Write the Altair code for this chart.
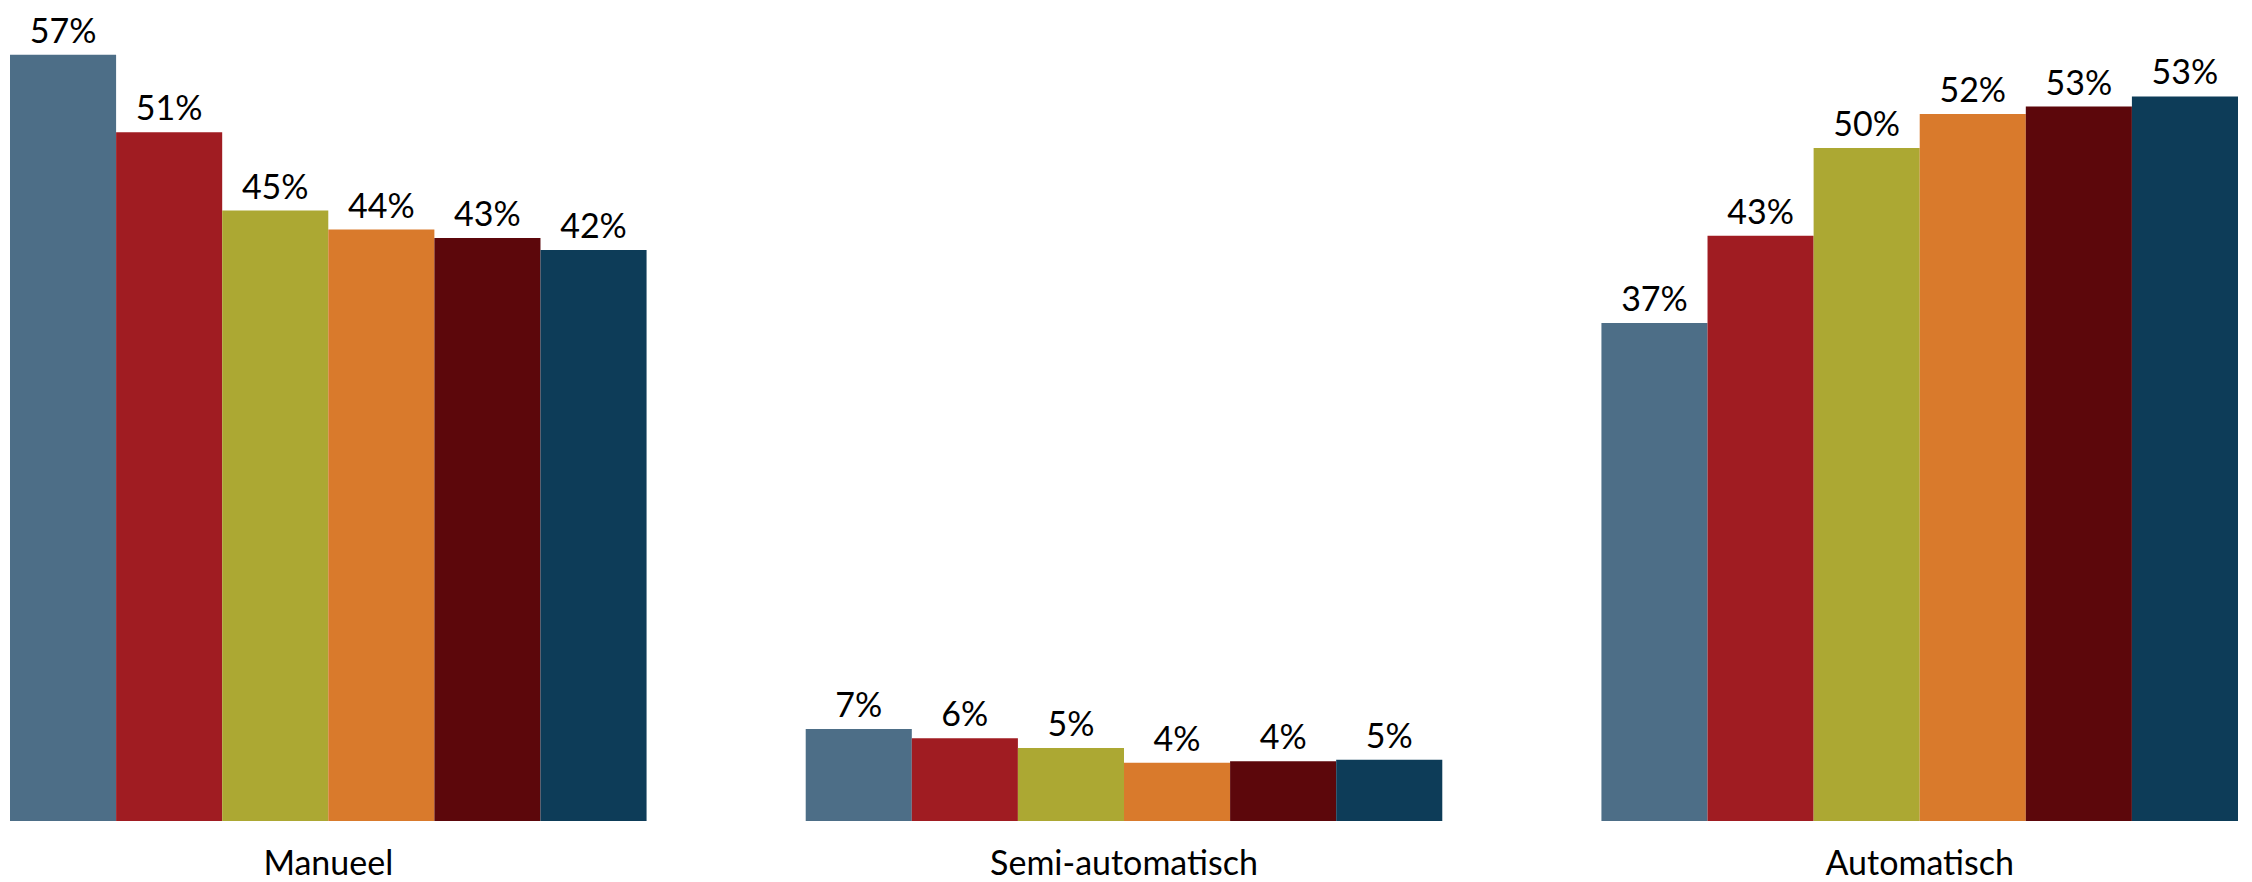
import altair as alt
import pandas as pd

groups = ["Manueel", "Semi-automatisch", "Automatisch"]
series = ["Reeks 1", "Reeks 2", "Reeks 3", "Reeks 4", "Reeks 5", "Reeks 6"]
manueel = [56.9, 51.15, 45.33, 43.92, 43.3, 42.41]
semi = [6.83, 6.14, 5.42, 4.33, 4.43, 4.55]
automatisch = [36.98, 43.45, 49.97, 52.5, 53.05, 53.8]
manueel_labels = ["57%", "51%", "45%", "44%", "43%", "42%"]
semi_labels = ["7%", "6%", "5%", "4%", "4%", "5%"]
automatisch_labels = ["37%", "43%", "50%", "52%", "53%", "53%"]
colors = ["#4D6E87", "#A01C22", "#ACA833", "#D97A2C", "#5C070B", "#0D3C58"]

rows = []
for g, vals, labs in zip(groups, [manueel, semi, automatisch],
                         [manueel_labels, semi_labels, automatisch_labels]):
    for s, v, l in zip(series, vals, labs):
        rows.append({"groep": g, "reeks": s, "waarde": v, "label": l})
df = pd.DataFrame(rows)

base = alt.Chart(df).encode(
    x=alt.X(
        "groep:N",
        sort=groups,
        scale=alt.Scale(paddingInner=0.2, paddingOuter=0),
        axis=alt.Axis(
            title=None, ticks=False, domain=False, labelAngle=0,
            labelFont="Lato", labelFontSize=34, labelColor="black",
            labelPadding=26, labelLimit=0,
        ),
    ),
    xOffset=alt.XOffset("reeks:N", sort=series,
                        scale=alt.Scale(paddingInner=0, paddingOuter=0)),
)

bars = base.mark_bar().encode(
    y=alt.Y("waarde:Q", scale=alt.Scale(domain=[0, 60]), axis=None),
    color=alt.Color("reeks:N", scale=alt.Scale(domain=series, range=colors),
                    legend=None),
)

text = base.mark_text(
    baseline="alphabetic", dy=-12, font="Lato", fontSize=34, color="black"
).encode(
    y=alt.Y("waarde:Q", scale=alt.Scale(domain=[0, 60]), axis=None),
    text="label:N",
)

chart = (bars + text).properties(
    width=2228, height=808,
    padding={"left": 2, "top": 5, "right": 6, "bottom": 62},
    autosize=alt.AutoSizeParams(type="none"),
).configure_view(stroke=None)

chart.save("out.html", embed_options={"renderer": "svg", "actions": False})
